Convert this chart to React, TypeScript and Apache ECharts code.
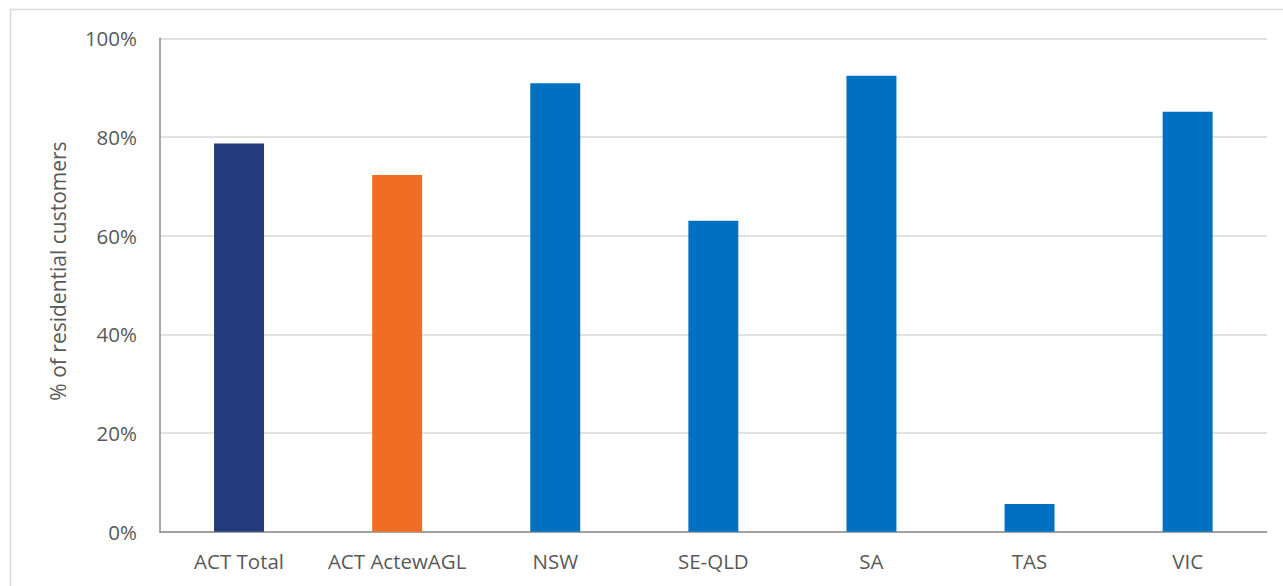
import React, { useEffect, useRef } from "react";
import * as echarts from "echarts";

// Share of residential customers by region (%)
const categories = ["ACT Total", "ACT ActewAGL", "NSW", "SE-QLD", "SA", "TAS", "VIC"];
const shares = [78.7, 72.3, 90.9, 63.0, 92.4, 5.6, 85.1];
const barColors = ["#233A7B", "#F26D24", "#0070C0", "#0070C0", "#0070C0", "#0070C0", "#0070C0"];
const yTicks = { min: 0, max: 100, interval: 20 };
const yTitle = "% of residential customers";

const FONT = "'Open Sans', 'DejaVu Sans', sans-serif";
const TEXT_COLOR = "#595959";

export default function App() {
  const ref = useRef<HTMLDivElement>(null);

  useEffect(() => {
    if (!ref.current) return;
    const chart = echarts.init(ref.current, undefined, { renderer: "svg" });
    chart.setOption({
      animation: false,
      backgroundColor: "#ffffff",
      textStyle: { fontFamily: FONT },
      graphic: [
        {
          type: "rect",
          silent: true,
          shape: { x: 10.5, y: 9.5, width: 1300, height: 600 },
          style: { fill: "none", stroke: "#d9d9d9", lineWidth: 1.5 },
        },
        {
          type: "text",
          silent: true,
          x: 58,
          y: 271,
          rotation: Math.PI / 2,
          style: {
            text: yTitle,
            fill: TEXT_COLOR,
            fontFamily: FONT,
            fontSize: 21,
            align: "center",
            verticalAlign: "middle",
          },
        },
      ],
      grid: { left: 160, right: 16.3, top: 38.3, bottom: 54.3 },
      xAxis: {
        type: "category",
        data: categories,
        axisLine: { show: true, lineStyle: { color: "#8c8c8c", width: 1.5 } },
        axisTick: { show: false },
        axisLabel: {
          color: TEXT_COLOR,
          fontFamily: FONT,
          fontSize: 20.5,
          margin: 19,
          interval: 0,
        },
      },
      yAxis: {
        type: "value",
        min: yTicks.min,
        max: yTicks.max,
        interval: yTicks.interval,
        axisLine: { show: true, lineStyle: { color: "#8c8c8c", width: 1.5 } },
        axisTick: { show: false },
        axisLabel: {
          color: TEXT_COLOR,
          fontFamily: FONT,
          fontSize: 20.5,
          margin: 23,
          formatter: (v: number) => `${v}%`,
        },
        splitLine: { show: true, lineStyle: { color: "#d9d9d9", width: 1.5 } },
      },
      series: [
        {
          type: "bar",
          barWidth: "31.6%",
          data: shares.map((v, i) => ({ value: v, itemStyle: { color: barColors[i] } })),
        },
      ],
    });
    return () => chart.dispose();
  }, []);

  return (
    <div
      ref={ref}
      style={{ position: "fixed", left: 0, top: 0, width: 1283, height: 586, background: "#fff" }}
    />
  );
}
